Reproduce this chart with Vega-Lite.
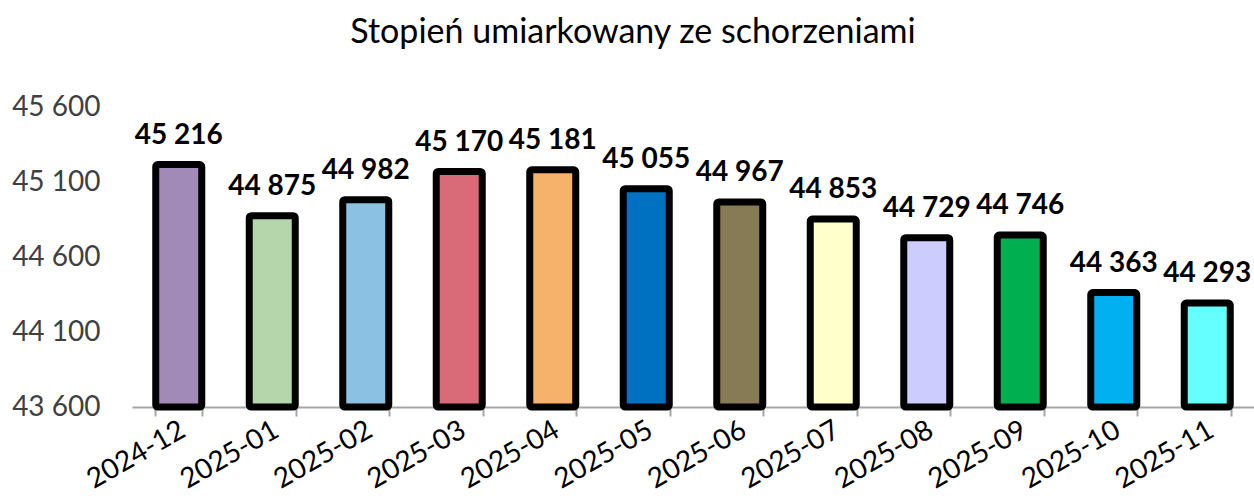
{
  "$schema": "https://vega.github.io/schema/vega-lite/v6.json",
  "width": 1122,
  "height": 300,
  "autosize": {"type": "none"},
  "padding": {"left": 132, "top": 107, "right": 0, "bottom": 91},
  "background": "white",
  "config": {
    "view": {"stroke": null},
    "locale": {"number": {"decimal": ",", "thousands": " ", "grouping": [3], "currency": ["", " zł"]}},
    "font": "Lato"
  },
  "title": {
    "text": "Stopień umiarkowany ze schorzeniami",
    "anchor": "middle",
    "dx": -60,
    "offset": 43,
    "fontSize": 34,
    "fontWeight": "normal",
    "font": "Lato",
    "color": "#000000"
  },
  "data": {
    "values": [
      {"month": "2024-12", "value": 45216, "color": "#A18AB8"},
      {"month": "2025-01", "value": 44875, "color": "#B5D6AB"},
      {"month": "2025-02", "value": 44982, "color": "#8BC2E3"},
      {"month": "2025-03", "value": 45170, "color": "#D96A77"},
      {"month": "2025-04", "value": 45181, "color": "#F6B26B"},
      {"month": "2025-05", "value": 45055, "color": "#0070C0"},
      {"month": "2025-06", "value": 44967, "color": "#877B55"},
      {"month": "2025-07", "value": 44853, "color": "#FFFFCC"},
      {"month": "2025-08", "value": 44729, "color": "#CCCCFF"},
      {"month": "2025-09", "value": 44746, "color": "#00B050"},
      {"month": "2025-10", "value": 44363, "color": "#00B0F0"},
      {"month": "2025-11", "value": 44293, "color": "#66FFFF"}
    ]
  },
  "encoding": {
    "x": {
      "field": "month",
      "type": "nominal",
      "sort": null,
      "scale": {"paddingInner": 0.5, "paddingOuter": 0.25, "align": 0.5},
      "axis": {
        "title": null,
        "labelAngle": -30,
        "labelFontSize": 28,
        "labelFont": "Lato",
        "labelColor": "#000000",
        "labelPadding": 12,
        "labelAlign": "right",
        "labelBaseline": "middle",
        "labelOffset": 4,
        "domainColor": "#A6A6A6",
        "domainWidth": 2,
        "tickColor": "#A6A6A6",
        "tickWidth": 2,
        "tickSize": 9,
        "tickBand": "extent",
        "grid": false
      }
    },
    "y": {
      "field": "value",
      "type": "quantitative",
      "scale": {"domain": [43600, 45600], "zero": false, "nice": false},
      "axis": {
        "title": null,
        "values": [43600, 44100, 44600, 45100, 45600],
        "labelExpr": "replace(format(datum.value, ',.0f'), ',', ' ')",
        "labelFontSize": 28,
        "labelFont": "Lato",
        "labelColor": "#404040",
        "labelPadding": 32,
        "ticks": false,
        "domain": false,
        "grid": false
      }
    }
  },
  "layer": [
    {
      "mark": {"type": "bar", "stroke": "#000000", "strokeWidth": 7, "strokeJoin": "round", "cornerRadius": 2, "width": 46},
      "encoding": {
        "y2": {"datum": 43600},
        "fill": {"field": "color", "type": "nominal", "scale": null}
      }
    },
    {
      "mark": {"type": "text", "fontSize": 28, "fontWeight": "bold", "font": "Lato", "color": "#000000", "baseline": "alphabetic", "dy": -21},
      "encoding": {
        "text": {"field": "value", "type": "quantitative", "format": ","}
      }
    }
  ]
}
